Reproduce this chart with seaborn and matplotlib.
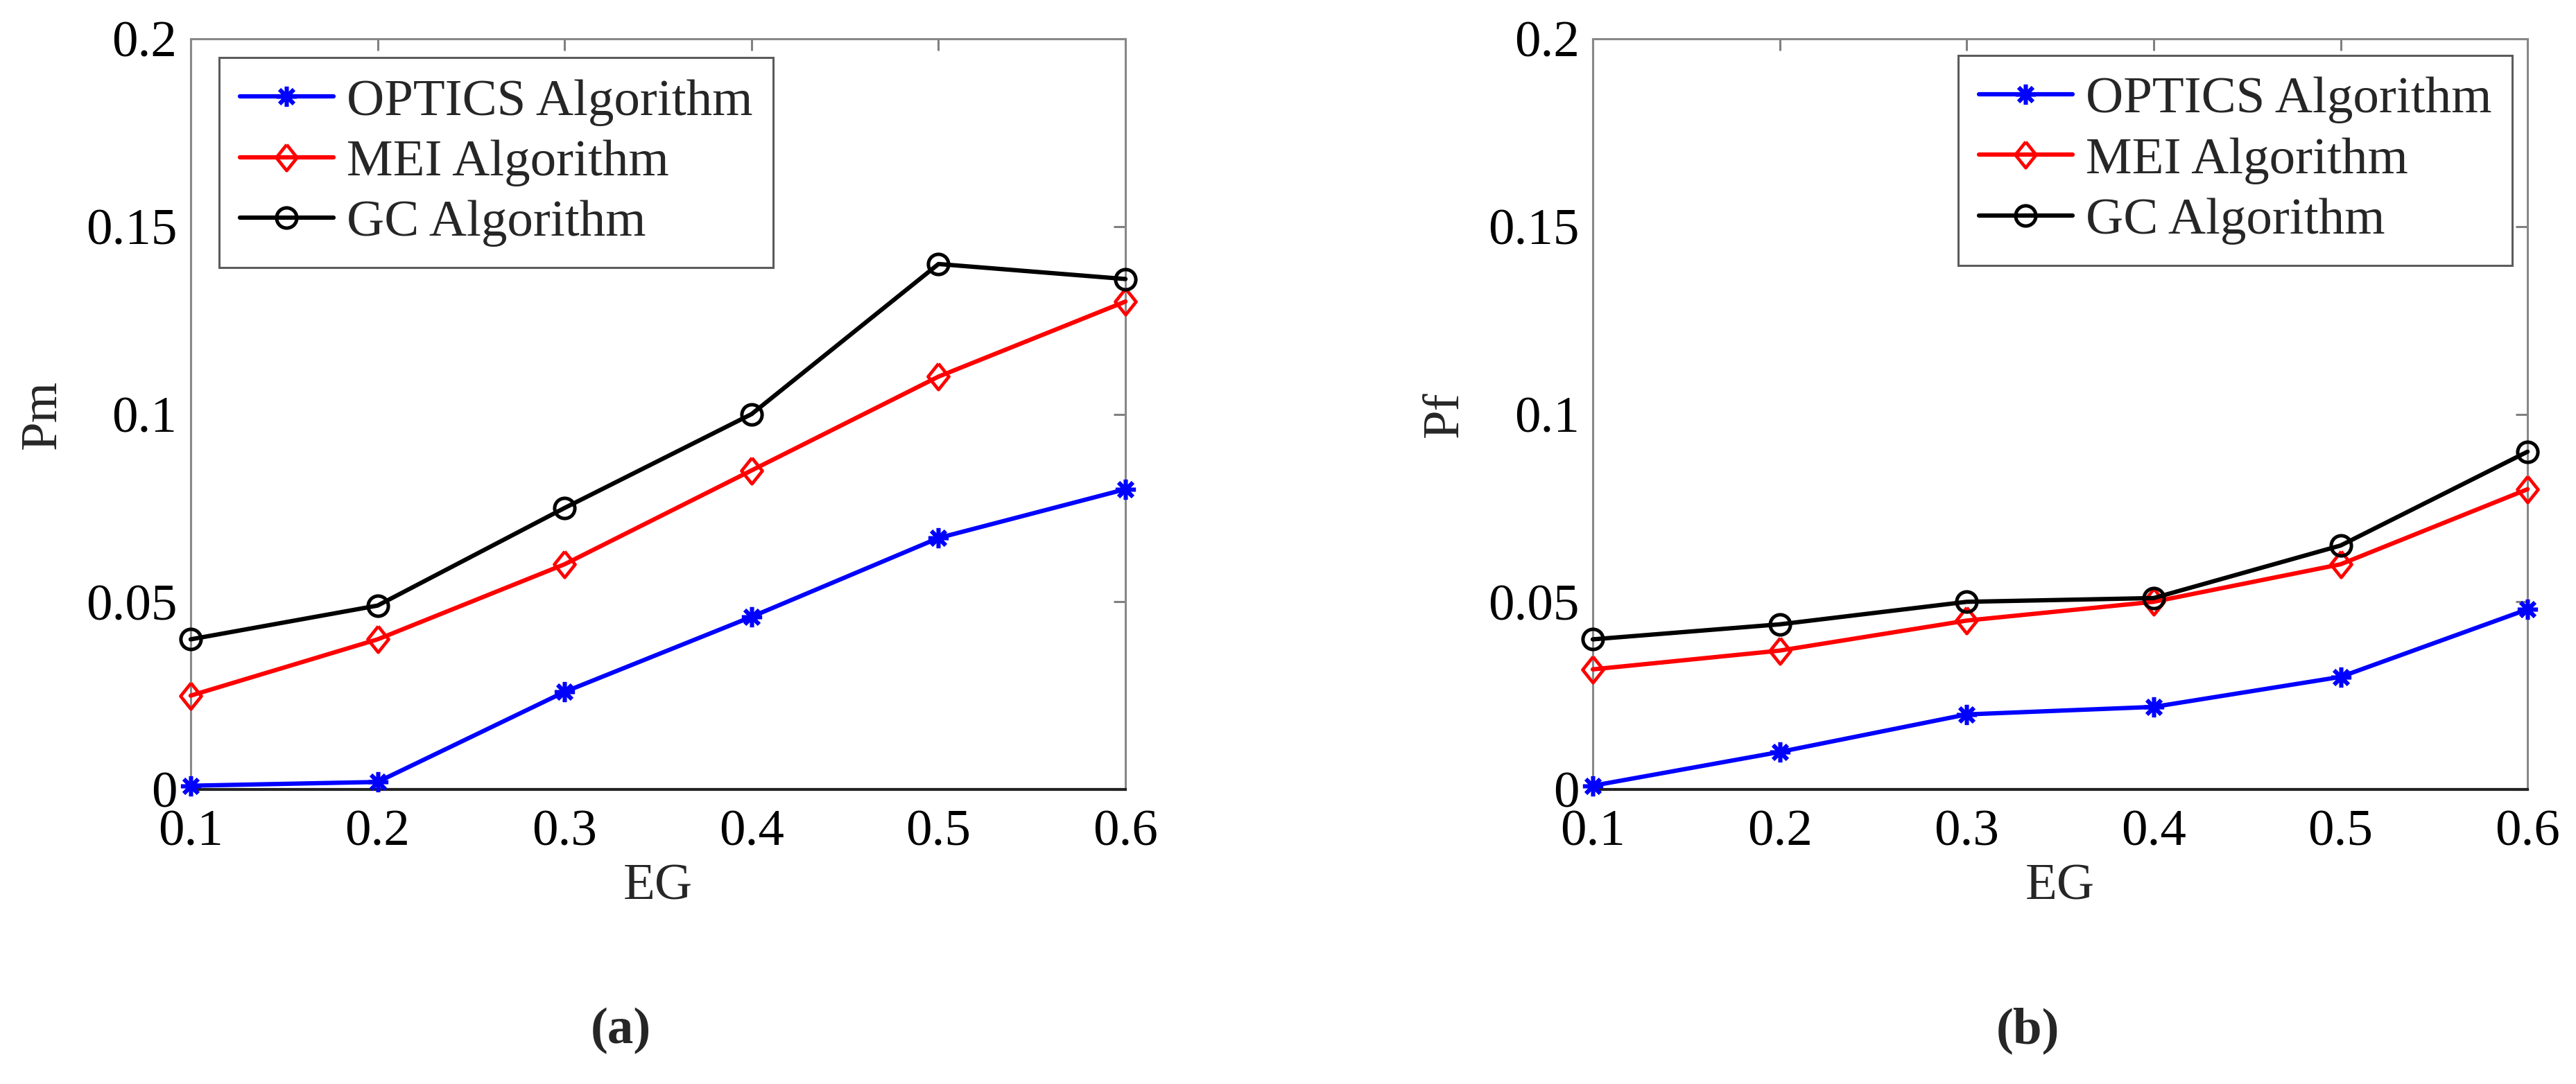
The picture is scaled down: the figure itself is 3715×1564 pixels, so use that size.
import numpy as np
import pandas as pd
import seaborn as sns
import matplotlib
matplotlib.use("Agg")
import matplotlib.pyplot as plt

# Data
eg = [0.1, 0.2, 0.3, 0.4, 0.5, 0.6]
pm_optics = [0.001, 0.002, 0.026, 0.046, 0.067, 0.080]
pm_mei = [0.025, 0.040, 0.060, 0.085, 0.110, 0.130]
pm_gc = [0.040, 0.049, 0.075, 0.100, 0.140, 0.136]
pf_optics = [0.001, 0.010, 0.020, 0.022, 0.030, 0.048]
pf_mei = [0.032, 0.037, 0.045, 0.050, 0.060, 0.080]
pf_gc = [0.040, 0.044, 0.050, 0.051, 0.065, 0.090]
series_names = ["OPTICS Algorithm", "MEI Algorithm", "GC Algorithm"]
x_ticks = [0.1, 0.2, 0.3, 0.4, 0.5, 0.6]
x_ticklabels = ["0.1", "0.2", "0.3", "0.4", "0.5", "0.6"]
y_ticks = [0, 0.05, 0.1, 0.15, 0.2]
y_ticklabels = ["0", "0.05", "0.1", "0.15", "0.2"]

sns.set_style("white")
plt.rcParams['font.family'] = ['Liberation Serif', 'DejaVu Serif']

FS = 54
diamond = [(0, 1), (0.8, 0), (0, -1), (-0.8, 0), (0, 1)]
styles = [
    dict(color='#0000ff', marker=(8, 2, 0), markersize=21, markeredgewidth=4),
    dict(color='#ff0000', marker=diamond, markersize=27, markeredgewidth=3.4),
    dict(color='#000000', marker='o', markersize=21, markeredgewidth=3.6),
]

fig = plt.figure(figsize=(37.15, 15.64), dpi=100)
ax_a = fig.add_axes([0.0740, 0.2717, 0.3629, 0.6925])
ax_b = fig.add_axes([0.6183, 0.2717, 0.3629, 0.6925])


def draw_panel(ax, values, ylabel, legend_loc, legend_anchor):
    for name, vals, st in zip(series_names, values, styles):
        df = pd.DataFrame({'EG': eg, 'val': vals})
        sns.lineplot(data=df, x='EG', y='val', ax=ax, label=name, lw=4.5,
                     markerfacecolor='none', markeredgecolor=st['color'],
                     clip_on=False, zorder=3, **st)
    ax.set_xlim(0.1, 0.6)
    ax.set_ylim(0, 0.2)
    ax.set_xticks(x_ticks)
    ax.set_xticklabels(x_ticklabels)
    ax.set_yticks(y_ticks)
    ax.set_yticklabels(y_ticklabels)
    ax.tick_params(axis='both', direction='in', top=True, right=True,
                   length=12, width=2.2, color='#808080', labelsize=FS,
                   labelcolor='black')
    ax.tick_params(axis='x', pad=21)
    ax.tick_params(axis='y', pad=14)
    for side in ['left', 'top', 'right']:
        ax.spines[side].set_color('#888888')
        ax.spines[side].set_linewidth(2.2)
    ax.spines['bottom'].set_color('#222222')
    ax.spines['bottom'].set_linewidth(3)
    ax.set_xlabel('EG', fontsize=FS, va='center')
    ax.xaxis.set_label_coords(0.5, -0.13)
    ax.set_ylabel(ylabel, fontsize=FS, va='center')
    ax.yaxis.set_label_coords(-0.158, 0.5)
    leg = ax.legend(loc=legend_loc, bbox_to_anchor=legend_anchor,
                    borderaxespad=0, fontsize=FS, frameon=True, fancybox=False,
                    handlelength=1.8, handletextpad=0.25, labelspacing=0.25,
                    borderpad=0.4)
    leg.get_frame().set_edgecolor('#333333')
    leg.get_frame().set_linewidth(2.2)


draw_panel(ax_a, [pm_optics, pm_mei, pm_gc], 'Pm', 'upper left', (0.0304, 0.975))
draw_panel(ax_b, [pf_optics, pf_mei, pf_gc], 'Pf', 'upper right', (0.9837, 0.978))

fig.text(895 / 3715, 1 - 1487 / 1564, '(a)', fontsize=FS, fontweight='bold',
         ha='center', va='center')
fig.text(2924 / 3715, 1 - 1487 / 1564, '(b)', fontsize=FS, fontweight='bold',
         ha='center', va='center')

fig.savefig('out.png', dpi=100)
